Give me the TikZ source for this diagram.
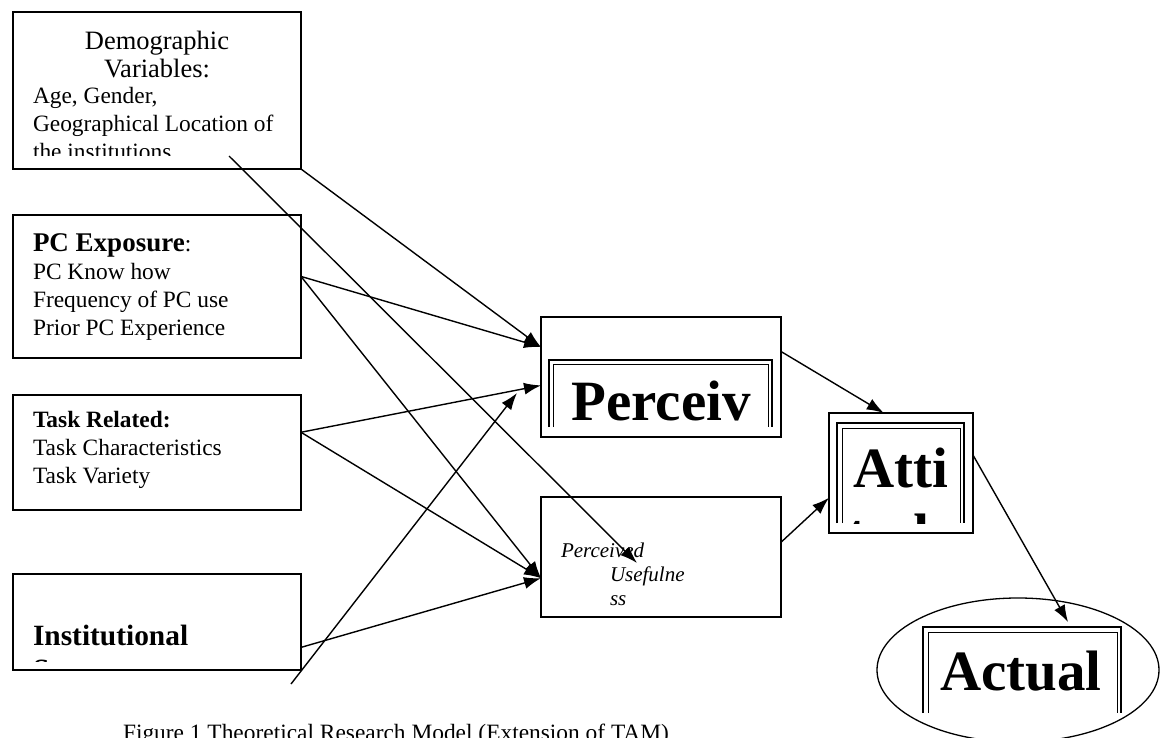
\documentclass[tikz,border=0pt]{standalone}
\usepackage{fontspec}
\setmainfont{Liberation Serif}
\usetikzlibrary{arrows.meta, calc, positioning, shapes.geometric}
\tikzset{
  tam/.style={
	x=1pt, y=-1pt, % one unit is one pixel of the figure, y grows downwards
	>={Latex[length=17pt,width=12pt]}, % filled arrow heads
	every node/.style={inner sep=0pt, outer sep=0pt}, % no padding round the boxes
  },
  factor/.style={draw, line width=1.8pt, anchor=north west, minimum width=288pt}, % boxes on the left
  construct/.style={draw, line width=1.8pt, minimum width=240pt, minimum height=120pt}, % TAM boxes
  link/.style={->, line width=1.4pt}, % the arrows
  frameout/.style={line width=1.8pt}, % outer line of a double frame
  framein/.style={line width=0.9pt}, % inner line of a double frame
  body/.style={anchor=base west, align=left, font=\fontsize{23.4}{28}\selectfont}, % box text, placed at its last line
  big/.style={anchor=base, align=center, font=\fontsize{57}{66}\selectfont\bfseries}, % large words
}

\begin{document}
\begin{tikzpicture}[tam]
	\useasboundingbox (0,0) rectangle (1160,738);
	\clip (0,0) rectangle (1160,738);

	\node[factor, minimum height=157pt] (demo) at (13,12) {};
	\node[factor, minimum height=143pt] (pc) at (13,215) {};
	\node[factor, minimum height=115pt] (task) at (13,395) {};
	\node[factor, minimum height=96pt] (inst) at (13,574) {};

	\node[construct] (peou) at (661,377) {};
	\node[construct] (pu) at (661,557) {};
	\node[construct, minimum width=144pt] (atti) at (901,473) {};
	\node[draw, ellipse, line width=1.3pt, minimum width=282pt, minimum height=144pt] (actual) at (1018,670) {};

	\begin{scope}
	  \clip (18,17) rectangle (296,156);
	  \node[body, anchor=base, align=center, font=\fontsize{26.5}{28}\selectfont] (demo head) at (157,78) {Demographic\\Variables:};
	  \node[body] (demo items) at (33,160) {Age, Gender,\\Geographical Location of\\the institutions};
	\end{scope}
	\node[body] (pc items) at (33,335) {{\fontsize{27}{28}\selectfont\bfseries PC Exposure}:\\PC Know how\\Frequency of PC use\\Prior PC Experience};
	\node[body] (task items) at (33,483) {\textbf{Task Related:}\\Task Characteristics\\Task Variety};
	\begin{scope}
	  \clip (18,579) rectangle (296,661);
	  \node[body, font=\fontsize{29.4}{34}\selectfont\bfseries] (inst items) at (33,679) {Institutional\\Support};
	\end{scope}

	\node[body, font=\fontsize{21}{24}\selectfont\itshape] (pu items) at (561,605) {Perceived\\\hspace*{49pt}Usefulne\\\hspace*{49pt}ss};

	\draw[frameout] (549,427) -- (549,360) -- (772,360) -- (772,427);
	\draw[framein] (553,427) -- (553,364) -- (768,364) -- (768,427);
	\node[big] (peou word) at (661,420) {Perceiv};

	\draw[frameout] (837,523) -- (837,423) -- (964,423) -- (964,523);
	\draw[framein] (842,523) -- (842,428) -- (960,428) -- (960,523);
	\begin{scope}
	  \clip (842,428) rectangle (960,523);
	  \node[big] (atti word) at (901,553) {Atti\\tude};
	\end{scope}

	\draw[frameout] (923,713) -- (923,627) -- (1121,627) -- (1121,713);
	\draw[framein] (928,713) -- (928,632) -- (1117,632) -- (1117,713);
	\node[big] (actual word) at (1021,690) {Actual};

	\node[body] (caption) at (123,740) {Figure 1 Theoretical Research Model (Extension of TAM)};

	\coordinate (demo tail) at (229,156);
	\coordinate (pu head) at (637,563);
	\coordinate (inst tail) at (291,684);
	\coordinate (peou head) at (517,393);
	\coordinate (actual head) at (1068,622);

	\draw[link] (demo.south east) -- (peou.166);
	\draw[link] (demo tail) -- (pu head);
	\draw[link] (pc.4) -- (peou.166);
	\draw[link] (pc.4) -- (pu.190);
	\draw[link] (task.8) -- (peou.184);
	\draw[link] (task.8) -- (pu.190);
	\draw[link] (inst.350) -- (pu.190);
	\draw[link] (inst tail) -- (peou head);
	\draw[link] (peou.12) -- (atti.106);
	\draw[link] (pu.7) -- (atti.199);
	\draw[link] (atti.14) -- (actual head);
\end{tikzpicture}
\end{document}
